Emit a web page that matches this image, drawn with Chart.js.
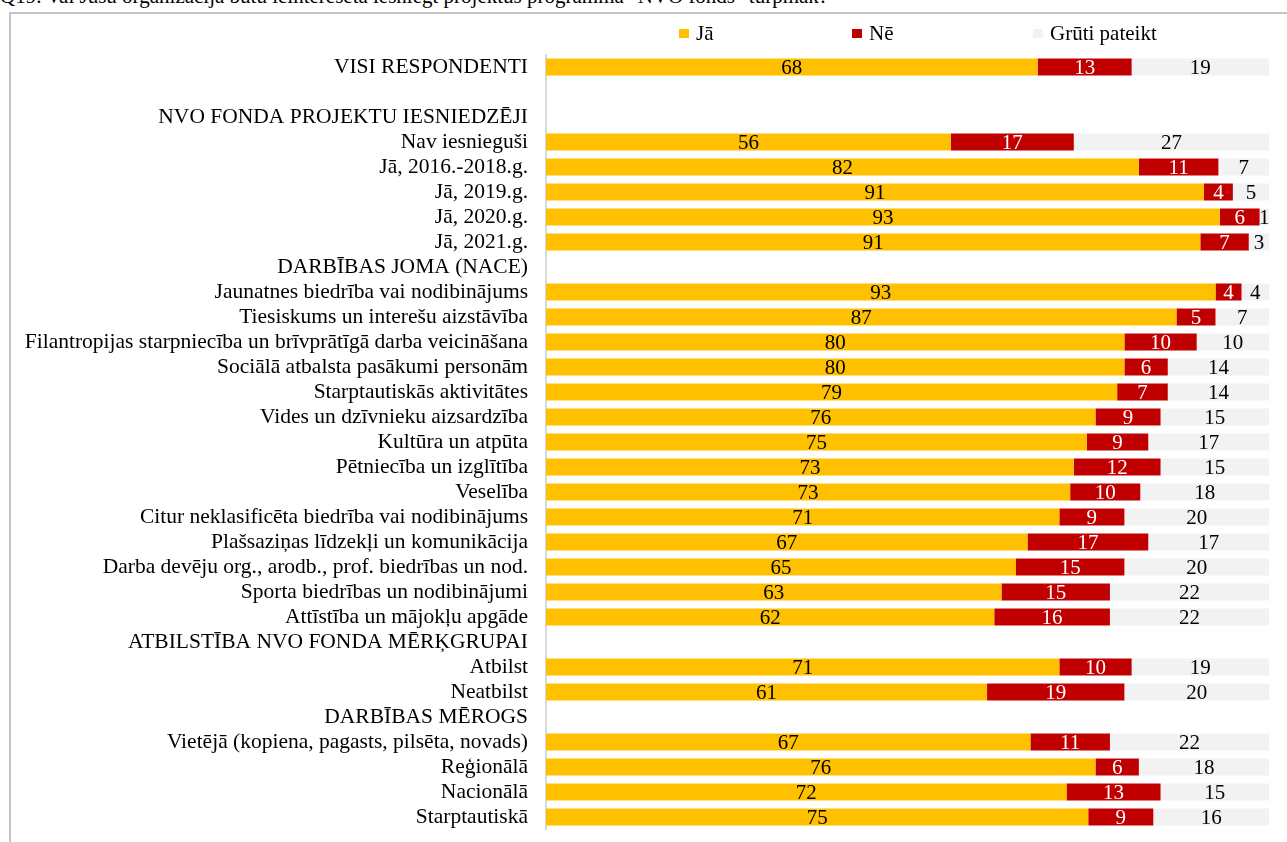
<!DOCTYPE html>
<html>
<head>
<meta charset="utf-8">
<script src="https://cdn.jsdelivr.net/npm/chart.js@4/dist/chart.umd.min.js"></script>
<style>
    html, body { margin: 0; padding: 0; background: #fff; overflow: hidden; }
    #wrap { position: relative; width: 1287px; height: 842px; font-family: "Liberation Serif", "Times New Roman", serif; }
    #title { position: absolute; left: 0; top: -16px; font-size: 21px; line-height: 24px; white-space: nowrap; color: #000; }
    #frame { position: absolute; left: 9px; top: 12px; width: 1290px; height: 840px; border-top: 2px solid #c4c4c4; border-left: 2px solid #c4c4c4; }
    #chart { position: absolute; left: 0; top: 0; }
    .leg { position: absolute; top: 21px; font-size: 21px; line-height: 24px; color: #000; white-space: nowrap; }
    .leg i { position: absolute; left: -17px; top: 8px; width: 10px; height: 9px; }
</style>
</head>
<body>
<div id="wrap">
    <div id="title">Q19. Vai Jūsu organizācija būtu ieinteresēta iesniegt projektus programmā "NVO fonds" turpmāk?</div>
    <div id="frame"></div>
    <canvas id="chart" width="1287" height="842"></canvas>
    <div class="leg" style="left:696px"><i style="background:#FFC000"></i>Jā</div>
    <div class="leg" style="left:869px"><i style="background:#C00000"></i>Nē</div>
    <div class="leg" style="left:1050px"><i style="background:#F2F2F2"></i>Grūti pateikt</div>
</div>
<script>
const CATEGORIES = [
    'VISI RESPONDENTI',
    '',
    'NVO FONDA PROJEKTU IESNIEDZĒJI',
    'Nav iesnieguši',
    'Jā, 2016.-2018.g.',
    'Jā, 2019.g.',
    'Jā, 2020.g.',
    'Jā, 2021.g.',
    'DARBĪBAS JOMA (NACE)',
    'Jaunatnes biedrība vai nodibinājums',
    'Tiesiskums un interešu aizstāvība',
    'Filantropijas starpniecība un brīvprātīgā darba veicināšana',
    'Sociālā atbalsta pasākumi personām',
    'Starptautiskās aktivitātes',
    'Vides un dzīvnieku aizsardzība',
    'Kultūra un atpūta',
    'Pētniecība un izglītība',
    'Veselība',
    'Citur neklasificēta biedrība vai nodibinājums',
    'Plašsaziņas līdzekļi un komunikācija',
    'Darba devēju org., arodb., prof. biedrības un nod.',
    'Sporta biedrības un nodibinājumi',
    'Attīstība un mājokļu apgāde',
    'ATBILSTĪBA NVO FONDA MĒRĶGRUPAI',
    'Atbilst',
    'Neatbilst',
    'DARBĪBAS MĒROGS',
    'Vietējā (kopiena, pagasts, pilsēta, novads)',
    'Reģionālā',
    'Nacionālā',
    'Starptautiskā',
];

// percentages, null = section header row
const JA = [68, null, null, 56, 82, 91, 93.2, 90.5, null, 92.6, 87.2, 80, 80, 79, 76, 74.8, 73, 72.5, 71, 66.6, 65, 63, 62, null, 71, 61, null, 67, 76, 72, 75];
const NE = [13, null, null, 17, 11, 4, 5.5, 6.7, null, 3.6, 5.4, 10, 6, 7, 9, 8.5, 12, 9.7, 9, 16.7, 15, 15, 16, null, 10, 19, null, 11, 6, 13, 9];
const GRUTI = [19, null, null, 27, 7, 5, 1.3, 2.8, null, 3.8, 7.4, 10, 14, 14, 15, 16.7, 15, 17.8, 20, 16.7, 20, 22, 22, null, 19, 20, null, 22, 18, 15, 16];

const SERIES = [
    { label: 'Jā', data: JA, color: '#FFC000', text: '#000000' },
    { label: 'Nē', data: NE, color: '#C00000', text: '#FFFFFF' },
    { label: 'Grūti pateikt', data: GRUTI, color: '#F2F2F2', text: '#000000' },
];

const FONT = '"Liberation Serif", "Times New Roman", serif';

// values written in the middle of each segment
const barLabels = {
    id: 'barLabels',
    afterDatasetsDraw(chart) {
        const ctx = chart.ctx;
        ctx.save();
        ctx.font = '21px ' + FONT;
        ctx.textAlign = 'center';
        ctx.textBaseline = 'middle';
        chart.data.datasets.forEach((ds, i) => {
            const meta = chart.getDatasetMeta(i);
            meta.data.forEach((bar, j) => {
                const v = ds.data[j];
                if (v === null || v === undefined) return;
                ctx.fillStyle = SERIES[i].text;
                ctx.fillText(String(Math.round(v)), (bar.x + bar.base) / 2, bar.y + 1);
            });
        });
        ctx.restore();
    }
};

const ctx = document.getElementById('chart').getContext('2d');
new Chart(ctx, {
    type: 'bar',
    data: {
        labels: CATEGORIES,
        datasets: SERIES.map(s => ({
            label: s.label,
            data: s.data,
            backgroundColor: s.color,
            borderWidth: 0,
            categoryPercentage: 1,
            barPercentage: 0.68,
        })),
    },
    options: {
        indexAxis: 'y',
        responsive: false,
        animation: false,
        layout: { padding: { top: 54.5, bottom: 12.5, right: 18, left: 0 } },
        plugins: {
            legend: { display: false },
            tooltip: { enabled: false },
        },
        scales: {
            x: {
                stacked: true,
                display: false,
                min: 0,
                max: 100,
            },
            y: {
                stacked: true,
                grid: { display: false, drawTicks: false },
                border: { display: true, color: '#d9d9d9', width: 2 },
                ticks: {
                    color: '#000',
                    padding: 18,
                    autoSkip: false,
                    font: { family: FONT, size: 21.5 },
                },
                afterFit(scale) {
                    scale.width = 546;
                    scale.paddingTop = 0;
                    scale.paddingBottom = 0;
                },
            },
        },
    },
    plugins: [barLabels],
});
</script>
</body>
</html>
